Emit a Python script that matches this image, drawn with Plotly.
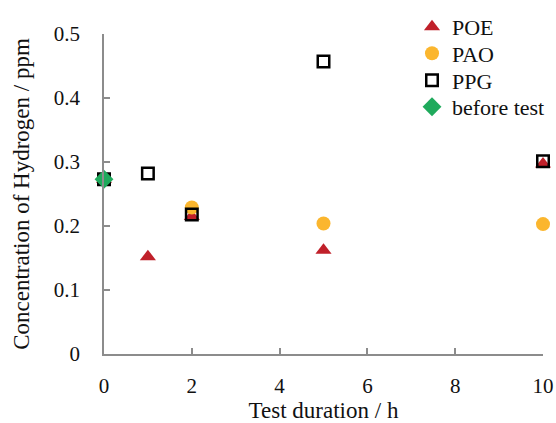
import plotly.graph_objects as go

# Data
poe_x = [0, 1, 2, 5, 10]
poe_y = [0.273, 0.152, 0.215, 0.162, 0.297]
pao_x = [0, 2, 5, 10]
pao_y = [0.273, 0.229, 0.204, 0.203]
ppg_x = [0, 1, 2, 5, 10]
ppg_y = [0.273, 0.282, 0.218, 0.457, 0.301]
before_x = [0]
before_y = [0.273]

x_ticks = [0, 2, 4, 6, 8, 10]
y_ticks = [0, 0.1, 0.2, 0.3, 0.4, 0.5]
y_ticktext = ["0", "0.1", "0.2", "0.3", "0.4", "0.5"]

FONT = "Liberation Serif"
tickfont = dict(family=FONT, size=21, color="#111111")
titlefont = dict(family=FONT, size=23, color="#111111")

W, H = 556, 423
legend_centers = [27, 53.5, 80.5, 107]  # pixel rows of legend entries

fig = go.Figure()
fig.add_trace(go.Scatter(x=poe_x, y=poe_y, mode="markers", name="POE", legend="legend",
                         marker=dict(symbol="triangle-up", size=14, color="#C0202A", line=dict(width=0)),
                         cliponaxis=False))
fig.add_trace(go.Scatter(x=pao_x, y=pao_y, mode="markers", name="PAO", legend="legend2",
                         marker=dict(symbol="circle", size=14, color="#FBB62E", line=dict(width=0)),
                         cliponaxis=False))
fig.add_trace(go.Scatter(x=ppg_x, y=ppg_y, mode="markers", name="PPG", legend="legend3",
                         marker=dict(symbol="square-open", size=11.5, color="#000000", line=dict(width=2.5)),
                         cliponaxis=False))
fig.add_trace(go.Scatter(x=before_x, y=before_y, mode="markers", name="before test", legend="legend4",
                         marker=dict(symbol="diamond", size=14.5, color="#1FAA5C", line=dict(width=0)),
                         cliponaxis=False))

def leg(cy):
    return dict(x=412 / W, y=1 - cy / H, xref="container", yref="container",
                xanchor="left", yanchor="middle", bgcolor="rgba(0,0,0,0)",
                font=dict(family=FONT, size=22, color="#111111"), itemwidth=30)

fig.update_layout(
    width=W, height=H,
    margin=dict(l=104, r=13, t=34, b=69, autoexpand=False),
    plot_bgcolor="white", paper_bgcolor="white",
    font=dict(family=FONT, size=21, color="#111111"),
    showlegend=True,
    legend=leg(legend_centers[0]),
    legend2=leg(legend_centers[1]),
    legend3=leg(legend_centers[2]),
    legend4=leg(legend_centers[3]),
)
fig.update_xaxes(
    range=[0, 10], tickvals=x_ticks, showgrid=False, zeroline=False,
    showline=True, linecolor="#8c8c8c", linewidth=1.5,
    ticks="inside", ticklen=6, tickcolor="#8c8c8c", tickwidth=1.5,
    tickfont=tickfont, automargin=False,
    title=dict(text="Test duration / h", standoff=9, font=titlefont),
    ticklabelstandoff=12,
)
fig.update_yaxes(
    range=[0, 0.5], tickvals=y_ticks, ticktext=y_ticktext, showgrid=False, zeroline=False,
    showline=True, linecolor="#8c8c8c", linewidth=1.5,
    ticks="inside", ticklen=6, tickcolor="#8c8c8c", tickwidth=1.5,
    tickfont=tickfont, automargin=False,
    title=dict(text="Concentration of Hydrogen / ppm", standoff=18, font=titlefont),
    ticklabelstandoff=18,
)

fig.write_html(
    "out.html",
    config={"displayModeBar": False},
    post_script="document.body.style.margin='0';document.body.style.overflow='hidden';",
)
